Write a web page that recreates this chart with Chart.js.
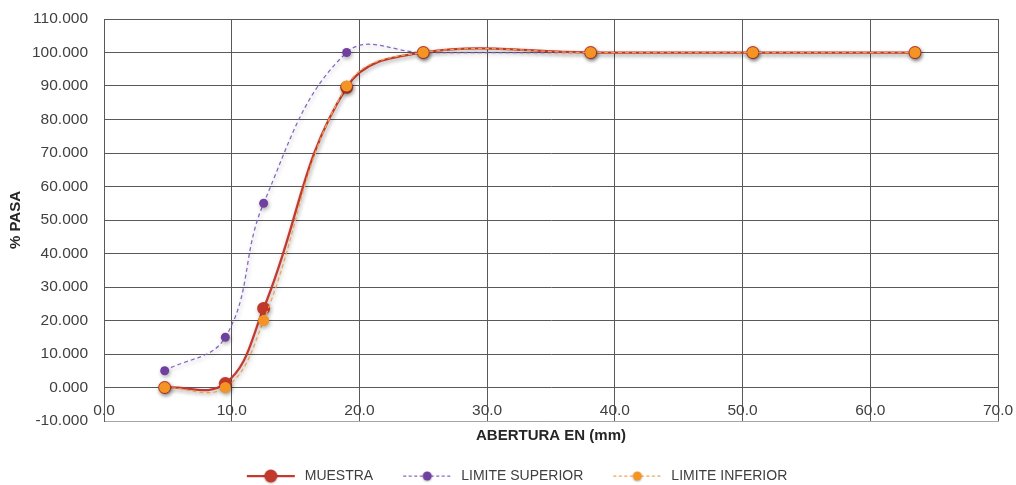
<!DOCTYPE html>
<html>
<head>
<meta charset="utf-8">
<script src="https://cdn.jsdelivr.net/npm/chart.js@4/dist/chart.umd.min.js"></script>
<style>
  html, body { margin: 0; padding: 0; background: #ffffff; }
  #wrap { width: 1016px; height: 485px; }
</style>
</head>
<body>
<div id="wrap"><canvas id="curva" width="1016" height="485"></canvas></div>
<script>
// Curva granulométrica: abertura del tamiz (mm) vs % que pasa
const aberturas = [4.75, 9.5, 12.5, 19.0, 25.0, 38.1, 50.8, 63.5];
const muestra = [0, 1.2, 23.6, 89.6, 100, 100, 100, 100];
const limiteSuperior = [5, 15, 55, 100, 100, 100, 100, 100];
const limiteInferior = [0, 0, 20, 90, 100, 100, 100, 100];

const xTicks = [0, 10, 20, 30, 40, 50, 60, 70];
const yTicks = [-10, 0, 10, 20, 30, 40, 50, 60, 70, 80, 90, 100, 110];

const serieNombres = ['MUESTRA', 'LIMITE SUPERIOR', 'LIMITE INFERIOR'];

const FONT = "'Liberation Sans', Arial, sans-serif";
const GRID = '#595959';
const GRID_LIGHT = '#a6a6a6';
const CLEAR = 'rgba(0,0,0,0)';

const pares = (ys) => aberturas.map((x, i) => ({ x: x, y: ys[i] }));

// Legend swatch: a short line with the marker in its middle
function muestraLeyenda(lineColor, markColor, lineWidth, dash, radius) {
  const c = document.createElement('canvas');
  c.width = 77; c.height = 18;
  const g = c.getContext('2d');
  g.strokeStyle = lineColor;
  g.lineWidth = lineWidth;
  g.setLineDash(dash);
  g.beginPath();
  g.moveTo(26, 9);
  g.lineTo(74, 9);
  g.stroke();
  g.setLineDash([]);
  g.shadowColor = 'rgba(0,0,0,0.3)';
  g.shadowBlur = 2;
  g.shadowOffsetY = 1;
  g.fillStyle = markColor;
  g.beginPath();
  g.arc(50, 9, radius, 0, Math.PI * 2);
  g.fill();
  return c;
}

const swatches = [
  muestraLeyenda('#c43a30', '#c0392b', 2.25, [], 6.5),
  muestraLeyenda('#8466bd', '#7040a0', 1.25, [3, 2.5], 4.5),
  muestraLeyenda('#f4a050', '#f39424', 1.25, [3, 2.5], 4.5)
];

// Soft drop shadow under lines and markers
const sombra = {
  id: 'sombra',
  beforeDatasetsDraw(chart) {
    const ctx = chart.ctx;
    ctx.save();
    ctx.shadowColor = 'rgba(0,0,0,0.32)';
    ctx.shadowBlur = 4;
    ctx.shadowOffsetX = 1;
    ctx.shadowOffsetY = 2;
  },
  afterDatasetsDraw(chart) {
    chart.ctx.restore();
  }
};

new Chart(document.getElementById('curva'), {
  type: 'line',
  data: {
    datasets: [
      {
        label: serieNombres[0],
        data: pares(muestra),
        borderColor: '#c43a30',
        borderWidth: 2.25,
        backgroundColor: '#c0392b',
        pointBackgroundColor: '#c0392b',
        pointBorderColor: '#c0392b',
        pointBorderWidth: 0,
        pointRadius: 6.5,
        tension: 0.4,
        fill: false,
        order: 1
      },
      {
        label: serieNombres[1],
        data: pares(limiteSuperior),
        borderColor: '#8466bd',
        borderWidth: 1.25,
        borderDash: [4, 3],
        backgroundColor: '#7040a0',
        pointBackgroundColor: '#7040a0',
        pointBorderColor: '#7040a0',
        pointBorderWidth: 0,
        pointRadius: 4.5,
        tension: 0.4,
        fill: false,
        order: 2
      },
      {
        label: serieNombres[2],
        data: pares(limiteInferior),
        borderColor: '#f4a050',
        borderWidth: 1.25,
        borderDash: [4, 3],
        backgroundColor: '#f39424',
        pointBackgroundColor: '#f39424',
        pointBorderColor: '#f39424',
        pointBorderWidth: 0,
        pointRadius: 5.5,
        tension: 0.4,
        fill: false,
        order: 0
      }
    ]
  },
  options: {
    responsive: false,
    animation: false,
    devicePixelRatio: 1,
    layout: { padding: { left: 10, right: 18, top: 19, bottom: -8 } },
    plugins: {
      tooltip: { enabled: false },
      legend: {
        position: 'bottom',
        align: 'center',
        labels: {
          usePointStyle: true,
          pointStyleWidth: 77,
          padding: 4,
          color: '#404040',
          font: { family: FONT, size: 14 },
          generateLabels(chart) {
            return serieNombres.map((t, i) => ({
              text: t,
              datasetIndex: i,
              pointStyle: swatches[i],
              fillStyle: CLEAR,
              strokeStyle: CLEAR,
              lineWidth: 0,
              hidden: false,
              fontColor: '#404040'
            }));
          }
        }
      }
    },
    scales: {
      x: {
        type: 'linear',
        position: 'bottom',
        min: xTicks[0],
        max: xTicks[xTicks.length - 1],
        afterBuildTicks(scale) { scale.ticks = xTicks.map(v => ({ value: v })); },
        afterFit(scale) { scale.height = 44; },
        grid: { color: GRID, lineWidth: 1, drawTicks: false },
        border: { display: true, color: GRID_LIGHT, width: 1 },
        ticks: {
          // mirrored labels sit just above the bottom edge, under the zero line
          mirror: true,
          padding: 1,
          maxRotation: 0,
          autoSkip: false,
          color: '#404040',
          font: { family: FONT, size: 15.5 },
          callback: (v) => Number(v).toFixed(1)
        },
        title: {
          display: true,
          text: 'ABERTURA EN (mm)',
          color: '#262626',
          font: { family: FONT, size: 15, weight: 'bold' },
          padding: { top: 0, bottom: 20 }
        }
      },
      y: {
        type: 'linear',
        position: 'left',
        min: yTicks[0],
        max: yTicks[yTicks.length - 1],
        afterBuildTicks(scale) { scale.ticks = yTicks.map(v => ({ value: v })); },
        afterFit(scale) { scale.width = 94; },
        grid: {
          color: (c) => (c.tick && c.tick.value === yTicks[0]) ? GRID_LIGHT : GRID,
          lineWidth: 1,
          drawTicks: true,
          tickLength: 16,
          tickColor: CLEAR
        },
        border: { display: true, color: GRID, width: 1 },
        ticks: {
          padding: 0,
          autoSkip: false,
          color: '#404040',
          font: { family: FONT, size: 15.5 },
          callback: (v) => Number(v).toFixed(3)
        },
        title: {
          display: true,
          text: '% PASA',
          color: '#262626',
          font: { family: FONT, size: 15, weight: 'bold' },
          padding: { top: -3, bottom: 0 }
        }
      }
    }
  },
  plugins: [sombra]
});
</script>
</body>
</html>
